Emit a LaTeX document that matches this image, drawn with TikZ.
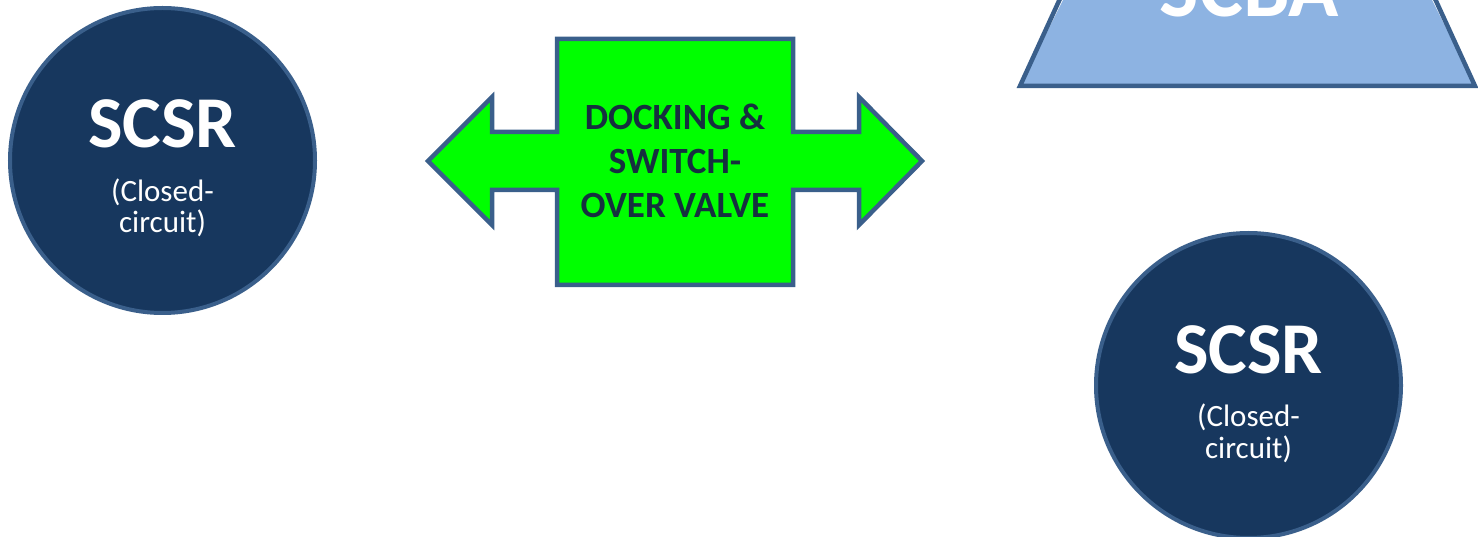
\documentclass[tikz,border=0pt]{standalone}
\usepackage{fontspec}
\setmainfont{Carlito}
\definecolor{navy}{HTML}{17375E}
\definecolor{edge}{HTML}{3A5F8B}
\definecolor{lightblue}{HTML}{8DB3E2}
\definecolor{valvegreen}{HTML}{00FF00}
\definecolor{valvetext}{HTML}{16303F}
\tikzset{
  circ/.style={circle, draw=edge, fill=navy, line width=4pt, minimum size=305pt, inner sep=0pt},
  bigtxt/.style={text=white, font=\bfseries\fontsize{73}{80}\selectfont, anchor=base, inner sep=0pt},
  subtxt/.style={text=white, font=\fontsize{31}{32}\selectfont, anchor=base, inner sep=0pt},
  valvetxt/.style={text=valvetext, font=\bfseries\fontsize{37}{44}\selectfont, anchor=base, inner sep=0pt},
  shapeline/.style={draw=edge, line width=4.5pt, line join=miter}
}
\begin{document}
\begin{tikzpicture}[x=1pt,y=-1pt]
\useasboundingbox (0,0) rectangle (1478,537);
% SCBA trapezoid (top cut off)
\fill[lightblue] (1020,86) -- (1475,86) -- (1431,-2) -- (1064,-2) -- cycle;
\draw[shapeline] (1064,-10) -- (1020,86) -- (1475,86) -- (1431,-10);
\node[text=white, font=\bfseries\fontsize{83}{90}\selectfont, anchor=base, inner sep=0pt] (scba) at (1249.5,17) {SCBA};
% left SCSR
\node[circ] (scsrL) at (162.5,160.5) {};
\node[bigtxt] (scsrLt) at (162.5,148) {SCSR};
\node[subtxt] (scsrLa) at (162.5,201.5) {(Closed-};
\node[subtxt] (scsrLb) at (162.5,233) {circuit)};
% right SCSR
\node[circ] (scsrR) at (1248.5,385.5) {};
\node[bigtxt] (scsrRt) at (1248.5,373) {SCSR};
\node[subtxt] (scsrRa) at (1248.5,426.5) {(Closed-};
\node[subtxt] (scsrRb) at (1248.5,458) {circuit)};
% valve double arrow
\draw[shapeline, fill=valvegreen] (428,161) -- (492,97) -- (492,132) -- (557,132) -- (557,39) -- (793,39) -- (793,132) -- (859,132) -- (859,97) -- (922,161) -- (859,225) -- (859,190) -- (793,190) -- (793,285) -- (557,285) -- (557,190) -- (492,190) -- (492,225) -- cycle;
\node[valvetxt] (v1) at (675,130) {DOCKING \&};
\node[valvetxt] (v2) at (675,174) {SWITCH-};
\node[valvetxt] (v3) at (675,218) {OVER VALVE};
\end{tikzpicture}
\end{document}
